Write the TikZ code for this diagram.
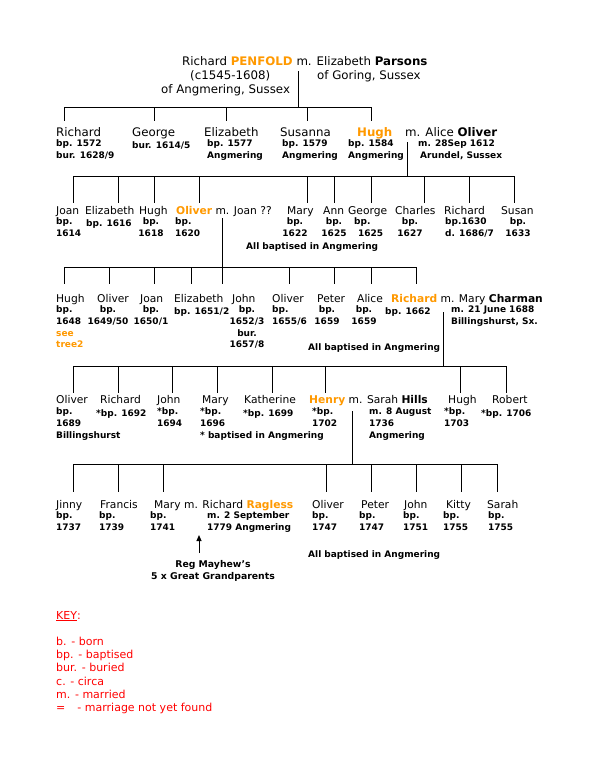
\documentclass[tikz,border=0pt]{standalone}
\usepackage{fontspec}
\setmainfont{DejaVu Sans}
\usetikzlibrary{arrows.meta}
\definecolor{orng}{RGB}{255,153,0}
\definecolor{keyred}{RGB}{255,0,0}
\newcommand\orn[1]{\textcolor{orng}{\textbf{#1}}}
\begin{document}
\begin{tikzpicture}[x=1pt,y=-1pt,
  bigname/.style={anchor=base west,inner sep=0pt,font=\fontsize{11.8}{14}\selectfont},
  pname/.style={anchor=base west,inner sep=0pt,font=\fontsize{10.7}{13}\selectfont},
  det/.style={anchor=north west,yshift=8.19pt,inner sep=0pt,align=left,font=\bfseries\fontsize{9}{11.7}\selectfont,execute at begin node=\strut},
  detc/.style={anchor=north,yshift=8.19pt,inner sep=0pt,align=center,font=\bfseries\fontsize{9}{11.7}\selectfont,execute at begin node=\strut},
  keyt/.style={anchor=base west,inner sep=0pt,text=keyred,font=\fontsize{11}{13}\selectfont},
  tree/.style={line width=1pt},
  arr/.style={line width=1pt,-{Triangle[width=5pt,length=6pt]}}]
\useasboundingbox[fill=white] (0,0) rectangle (594,758);

% ---------- generation 1
\node[bigname] (g1a) at (182,65) {Richard \orn{PENFOLD} m. Elizabeth \textbf{Parsons}};
\node[bigname] (g1b) at (190,79) {(c1545-1608)};
\node[bigname] (g1c) at (317,79) {of Goring, Sussex};
\node[bigname] (g1d) at (161,93) {of Angmering, Sussex};
\coordinate (m1) at (298,71);
\coordinate (bar1) at (298,107);
\draw[tree] (m1) -- (bar1);
\draw[tree] (64,107) -- (371,107);
\foreach \x in {64,154,226,307,371} \draw[tree] (\x,107) -- (\x,121);

% ---------- generation 2
\node[bigname] (g2n1) at (56,136) {Richard};
\node[det] (g2d1) at (56,148) {bp. 1572\\bur. 1628/9};
\node[bigname] (g2n2) at (132,136) {George};
\node[det] (g2d2) at (132,148) {bur. 1614/5};
\node[bigname] (g2n3) at (204,136) {Elizabeth};
\node[det] (g2d3) at (207,148) {bp. 1577\\Angmering};
\node[bigname] (g2n4) at (280,136) {Susanna};
\node[det] (g2d4) at (282,148) {bp. 1579\\Angmering};
\node[bigname] (g2n5) at (357,136) {\orn{Hugh}};
\node[det] (g2d5) at (348,148) {bp. 1584\\Angmering};
\node[bigname] (g2n6) at (405,136) {m. Alice \textbf{Oliver}};
\node[det] (g2d6) at (418,148) {m. 28Sep 1612\\\hspace{2pt}Arundel, Sussex};
\coordinate (m2) at (407,142);
\coordinate (bar2) at (407,176);
\draw[tree] (m2) -- (bar2);
\draw[tree] (73,176) -- (514,176);
\foreach \x in {73,118,154,199,307,334,371,424,469,514} \draw[tree] (\x,176) -- (\x,203);

% ---------- generation 3
\node[pname] (g3n1) at (56,214) {Joan};
\node[det] (g3d1) at (56,226) {bp.\\1614};
\node[pname] (g3n2) at (85,214) {Elizabeth};
\node[det] (g3d2) at (86,226) {bp. 1616};
\node[pname] (g3n3) at (139,214) {Hugh};
\node[detc] (g3d3) at (151,226) {bp.\\1618};
\node[pname] (g3n4) at (176,214) {\orn{Oliver} m. Joan ??};
\node[det] (g3d4) at (175,226) {bp.\\1620};
\node[pname] (g3n5) at (287,214) {Mary};
\node[detc] (g3d5) at (295,226) {bp.\\1622};
\node[pname] (g3n6) at (323,214) {Ann};
\node[detc] (g3d6) at (334,226) {bp.\\1625};
\node[pname] (g3n7) at (348,214) {George};
\node[det] (g3d7) at (354,226) {bp.\\\hspace{4pt}1625};
\node[pname] (g3n8) at (395,214) {Charles};
\node[detc] (g3d8) at (410,226) {bp.\\1627};
\node[pname] (g3n9) at (444,214) {Richard};
\node[det] (g3d9) at (445,226) {bp.1630\\d. 1686/7};
\node[pname] (g3n10) at (501,214) {Susan};
\node[detc] (g3d10) at (518,226) {bp.\\1633};
\node[det] (g3all) at (246,249) {All baptised in Angmering};
\coordinate (m3) at (222,218);
\coordinate (bar3) at (222,267);
\draw[tree] (m3) -- (bar3);
\draw[tree] (64,267) -- (416,267);
\foreach \x in {64,109,154,191,222,289,334,371,416} \draw[tree] (\x,267) -- (\x,284);

% ---------- generation 4
\node[pname] (g4n1) at (56,302) {Hugh};
\node[det] (g4d1) at (56,314) {bp.\\1648\\\textcolor{orng}{see}\\\textcolor{orng}{tree2}};
\node[pname] (g4n2) at (97,302) {Oliver};
\node[detc] (g4d2) at (108,314) {bp.\\1649/50};
\node[pname] (g4n3) at (140,302) {Joan};
\node[detc] (g4d3) at (151,314) {bp.\\1650/1};
\node[pname] (g4n4) at (174,302) {Elizabeth};
\node[det] (g4d4) at (174,314) {bp. 1651/2};
\node[pname] (g4n5) at (232,302) {John};
\node[detc] (g4d5) at (247,314) {bp.\\1652/3\\bur.\\1657/8};
\node[pname] (g4n6) at (272,302) {Oliver};
\node[det] (g4d6) at (272,314) {bp.\\1655/6};
\node[pname] (g4n7) at (317,302) {Peter};
\node[detc] (g4d7) at (327,314) {bp.\\1659};
\node[pname] (g4n8) at (357,302) {Alice};
\node[detc] (g4d8) at (364,314) {bp.\\1659};
\node[pname] (g4n9) at (391,302) {\orn{Richard} m. Mary \textbf{Charman}};
\node[det] (g4d9) at (385,314) {bp. 1662};
\node[det] (g4d10) at (451,314) {m. 21 June 1688\\Billingshurst, Sx.};
\node[det] (g4all) at (308,350) {All baptised in Angmering};
\coordinate (m4) at (443,312);
\coordinate (bar4) at (443,366);
\draw[tree] (m4) -- (bar4);
\draw[tree] (73,366) -- (506,366);
\foreach \x in {73,118,172,217,272,325,460,506} \draw[tree] (\x,366) -- (\x,393);

% ---------- generation 5
\node[pname] (g5n1) at (56,403) {Oliver};
\node[det] (g5d1) at (56,416) {bp.\\1689\\Billingshurst};
\node[pname] (g5n2) at (100,403) {Richard};
\node[det] (g5d2) at (96,416) {*bp. 1692};
\node[pname] (g5n3) at (157,403) {John};
\node[det] (g5d3) at (157,416) {*bp.\\1694};
\node[pname] (g5n4) at (202,403) {Mary};
\node[det] (g5d4) at (200,416) {*bp.\\1696\\* baptised in Angmering};
\node[pname] (g5n5) at (244,403) {Katherine};
\node[det] (g5d5) at (243,416) {*bp. 1699};
\node[pname] (g5n6) at (309,403) {\orn{Henry} m. Sarah \textbf{Hills}};
\node[det] (g5d6) at (312,416) {*bp.\\1702};
\node[det] (g5d7) at (369,416) {m. 8 August\\1736\\Angmering};
\node[pname] (g5n8) at (448,403) {Hugh};
\node[det] (g5d8) at (444,416) {*bp.\\1703};
\node[pname] (g5n9) at (492,403) {Robert};
\node[det] (g5d9) at (481,416) {*bp. 1706};
\coordinate (m5) at (352,411);
\coordinate (bar5) at (352,464);
\draw[tree] (m5) -- (bar5);
\draw[tree] (73,464) -- (497,464);
\foreach \x in {73,118,163,326,371,416,461,497} \draw[tree] (\x,464) -- (\x,492);

% ---------- generation 6
\node[pname] (g6n1) at (56,508) {Jinny};
\node[det] (g6d1) at (56,520) {bp.\\1737};
\node[pname] (g6n2) at (100,508) {Francis};
\node[det] (g6d2) at (99,520) {bp.\\1739};
\node[pname] (g6n3) at (154,508) {Mary m. Richard \orn{Ragless}};
\node[det] (g6d3) at (150,520) {bp.\\1741};
\node[det] (g6d4) at (207,520) {m. 2 September\\1779 Angmering};
\node[pname] (g6n5) at (312,508) {Oliver};
\node[det] (g6d5) at (312,520) {bp.\\1747};
\node[pname] (g6n6) at (361,508) {Peter};
\node[det] (g6d6) at (359,520) {bp.\\1747};
\node[pname] (g6n7) at (404,508) {John};
\node[det] (g6d7) at (403,520) {bp.\\1751};
\node[pname] (g6n8) at (446,508) {Kitty};
\node[det] (g6d8) at (443,520) {bp.\\1755};
\node[pname] (g6n9) at (487,508) {Sarah};
\node[det] (g6d9) at (488,520) {bp.\\1755};
\node[det] (g6all) at (308,557) {All baptised in Angmering};
\node[anchor=north,yshift=8.4pt,inner sep=0pt,align=center,font=\bfseries\fontsize{9.3}{12}\selectfont,execute at begin node=\strut] (reg) at (213,569) {Reg Mayhew’s\\5 x Great Grandparents};
\coordinate (arrbase) at (199,553);
\coordinate (arrtip) at (199,535);
\draw[arr] (arrbase) -- (arrtip);

% ---------- key
\node[keyt] (key) at (56,619) {\underline{KEY}:};
\node[keyt] (k1) at (56,645) {b. - born};
\node[keyt] (k2) at (56,658) {bp. - baptised};
\node[keyt] (k3) at (56,671) {bur. - buried};
\node[keyt] (k4) at (56,685) {c. - circa};
\node[keyt] (k5) at (56,698) {m. - married};
\node[keyt] (k6) at (56,711) {=\hspace{12pt}- marriage not yet found};
\end{tikzpicture}
\end{document}
